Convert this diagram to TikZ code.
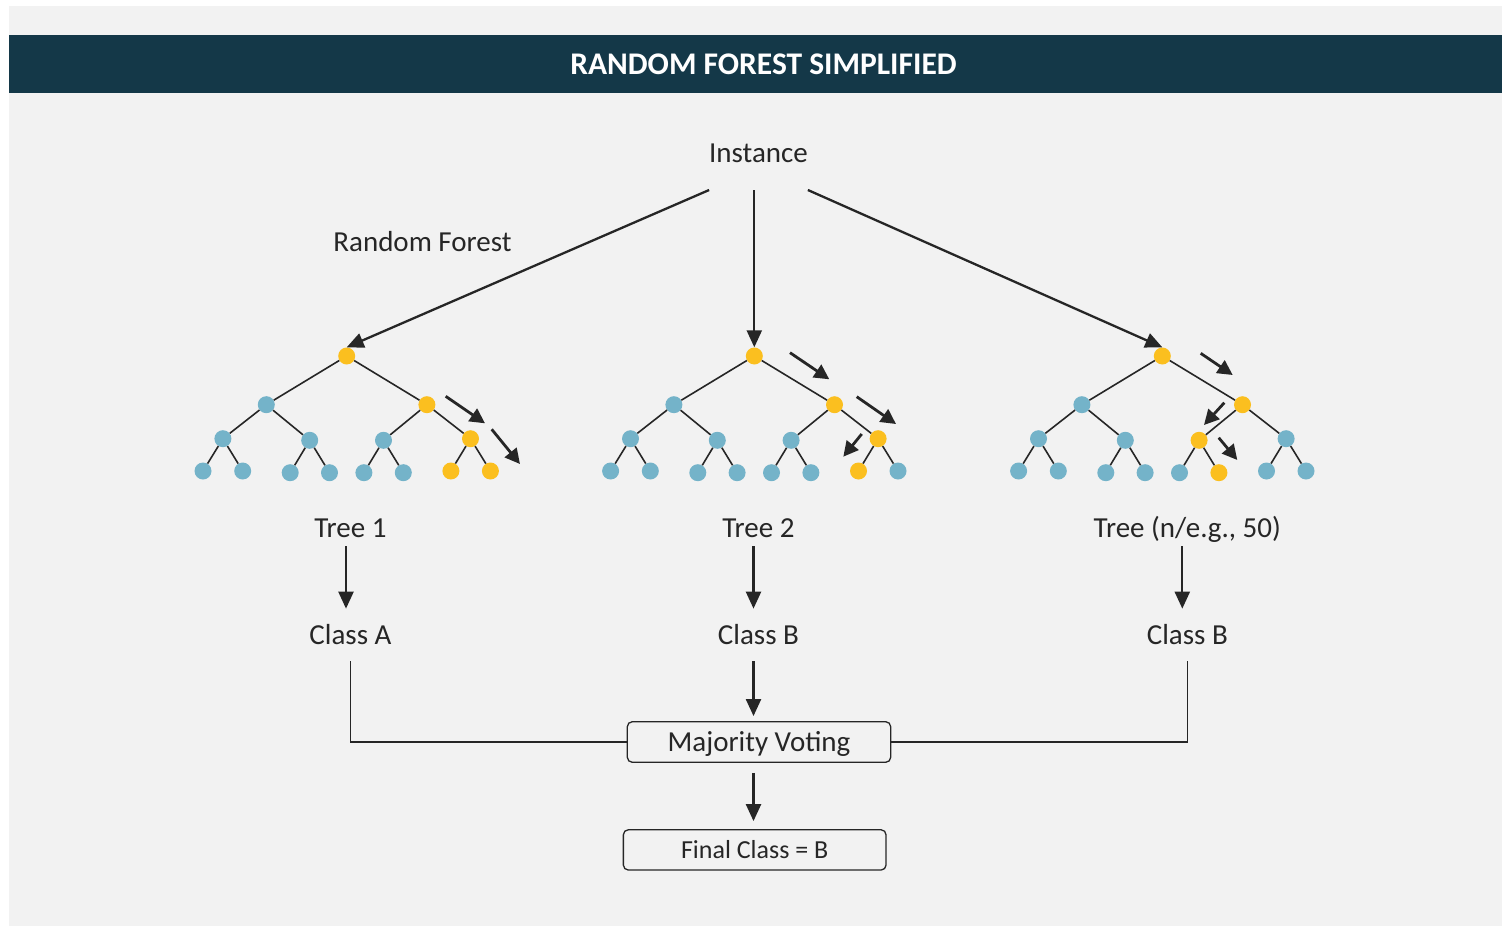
\documentclass[tikz,border=0pt]{standalone}
\usepackage{fontspec}
\setmainfont{Carlito}
\usetikzlibrary{arrows.meta,calc}
\definecolor{panel}{HTML}{F2F2F2}
\definecolor{titlebg}{HTML}{143848}
\definecolor{ink}{HTML}{262626}
\definecolor{blu}{HTML}{74B3C9}
\definecolor{yel}{HTML}{FBBF1F}
\makeatletter
\newcommand\forestree[3]{%
  \begin{scope}[shift={(#2,356)}]
  \foreach \nn/\dx/\dy in {r/0/0,a/-80.4/48.7,b/80.2/48.7,c/-123.8/82.7,d/-37/84.3,e/36.8/84.3,f/123.8/82.7,g/-143.7/115,h/-104/115,i/-56.5/116.7,j/-17.2/116.7,k/17.2/116.7,l/56.6/116.7,m/104.2/115,n/143.7/115}{%
    \edef\tmpname{,\nn,}%
    \expandafter\in@\expandafter{\tmpname}{,#3,}%
    \ifin@\def\fc{yel}\else\def\fc{blu}\fi
    \node[tn, fill=\fc] (t#1\nn) at (\dx,\dy) {};
  }
  \end{scope}
  \foreach \p/\q in {r/a,r/b,a/c,a/d,b/e,b/f,c/g,c/h,d/i,d/j,e/k,e/l,f/m,f/n}
    \draw[edge] (t#1\p) -- (t#1\q);
}
\makeatother
\begin{document}
\begin{tikzpicture}[x=1pt,y=-1pt,
  txt/.style={font=\fontsize{29}{34}\selectfont, text=ink, inner sep=0pt, text height=18.7pt, text depth=0pt},
  tn/.style={circle, minimum size=17pt, inner sep=0pt, draw=none},
  edge/.style={draw=ink, line width=1.6pt},
  arr/.style={draw=ink, line width=2.3pt, -{Triangle[length=17pt,width=15pt]}},
  mini/.style={draw=ink, line width=2.8pt, -{Triangle[length=15pt,width=15pt]}},
  wire/.style={draw=ink, line width=1.4pt},
  box/.style={draw=ink, line width=1.3pt, rounded corners=5pt, fill=panel}
]
\useasboundingbox (0,0) rectangle (1502,926);
\fill[white] (0,0) rectangle (1502,926);
\fill[panel] (9,6) rectangle (1502,926);
\fill[titlebg] (9,35) rectangle (1502,93);
\node[font=\fontsize{31.5}{36}\selectfont\bfseries, text=white, inner sep=0pt] (title) at (763.5,64) {RANDOM FOREST SIMPLIFIED};

% trees
\forestree{1}{346.7}{r,b,f,m,n}
\forestree{2}{754.3}{r,b,f,m}
\forestree{3}{1162.3}{r,b,e,l}

% path indicators
\draw[mini] (445.7,396.3) -- (485,423.3);
\draw[mini] (491.7,429.3) -- (520,464);
\draw[mini] (790,352.7) -- (829.3,379.3);
\draw[mini] (856.7,396.7) -- (896,424);
\draw[mini] (861.7,434) -- (843.3,456.7);
\draw[mini] (1200.7,353.3) -- (1232.7,375);
\draw[mini] (1224.3,402.7) -- (1204,425);
\draw[mini] (1218.7,437.7) -- (1237.3,460);

% texts
\node[txt, outer xsep=0pt, outer ysep=27.65pt] (inst) at (758.5,153) {Instance};
\node[txt] (rf) at (422.5,242) {Random Forest};
\node[txt, outer ysep=8.65pt] (lab1) at (350.5,528) {Tree 1};
\node[txt, outer ysep=8.65pt] (lab2) at (758.5,528) {Tree 2};
\node[txt, outer ysep=8.65pt] (lab3) at (1187.3,528) {Tree (n/e.g., 50)};
\node[txt, outer ysep=17pt] (cls1) at (350.5,635) {Class A};
\node[txt, outer ysep=17pt] (cls2) at (758.5,635) {Class B};
\node[txt, outer ysep=17pt] (cls3) at (1187.3,635) {Class B};
\node[txt, box, inner sep=0pt, minimum width=263.4pt, minimum height=40.6pt] (mv) at (759,742) {Majority Voting};
\node[txt, box, font=\fontsize{26}{30}\selectfont, text height=16.7pt, inner sep=0pt, minimum width=262.7pt, minimum height=40.3pt] (fin) at (754.7,849.9) {Final Class = B};
\coordinate (ax) at (753.5,0);

% connectors
\draw[arr] (inst.south west) -- (t1r.north);
\draw[arr] (inst.south -| t2r.north) -- (t2r.north);
\draw[arr] (inst.south east) -- (t3r.north);
\draw[arr] ([xshift=-4.5pt]lab1.south) -- ([xshift=-4.5pt]cls1.north);
\draw[arr] ([xshift=-5pt]lab2.south) -- ([xshift=-5pt]cls2.north);
\draw[arr] ([xshift=-5pt]lab3.south) -- ([xshift=-5pt]cls3.north);
\draw[wire] (cls1.south) |- (mv.west);
\draw[wire] (cls3.south) |- (mv.east);
\draw[arr, shorten >=5pt] (cls2.south -| ax) -- (mv.north -| ax);
\draw[arr, shorten <=10pt, shorten >=8pt] (mv.south -| ax) -- (fin.north -| ax);
\end{tikzpicture}
\end{document}
